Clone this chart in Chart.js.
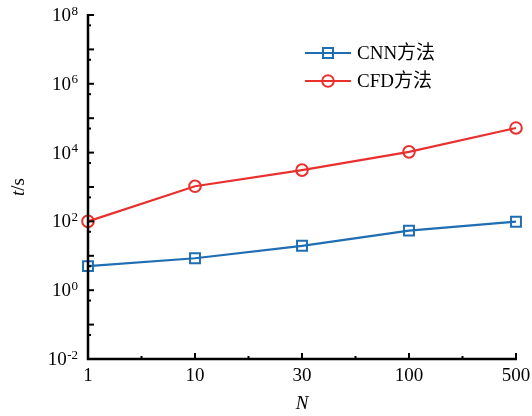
<!DOCTYPE html>
<html>
<head>
<meta charset="utf-8">
<script src="https://cdn.jsdelivr.net/npm/chart.js@4.4.1/dist/chart.umd.min.js"></script>
<style>
html,body{margin:0;padding:0;background:#fff;}
#wrap{width:532px;height:416px;position:relative;}
</style>
</head>
<body>
<div id="wrap"><canvas id="c" width="532" height="416"></canvas></div>
<script>
const categories = ['1', '10', '30', '100', '500'];
const cnnValues = [5, 8.5, 19.5, 54, 98];
const cfdValues = [100, 1050, 3100, 10500, 52000];
const seriesNames = ['CNN方法', 'CFD方法'];
const yLabelExponents = [-2, 0, 2, 4, 6, 8];
const yMin = 0.01, yMax = 1e8;
const xTitle = 'N';
const yTitle = ['t', '/s'];

const BLUE = '#1f6db3';
const RED = '#e8302e';
const SERIF = '"Liberation Serif", "DejaVu Serif", serif';
const CJK = '"Liberation Serif", "Noto Sans CJK SC", serif';

const axesPlugin = {
  id: 'axesPlugin',
  afterDatasetsDraw(chart) {
    const ctx = chart.ctx;
    const xs = chart.scales.x, ys = chart.scales.y;
    const a = chart.chartArea;
    ctx.save();
    ctx.strokeStyle = '#000';
    ctx.fillStyle = '#000';
    // axis lines
    ctx.lineWidth = 2.5;
    ctx.beginPath();
    ctx.moveTo(a.left, a.top - 1);
    ctx.lineTo(a.left, a.bottom);
    ctx.lineTo(a.right + 1, a.bottom);
    ctx.stroke();
    // y ticks (inward)
    ctx.lineWidth = 2;
    for (let e = -2; e <= 8; e++) {
      const y = ys.getPixelForValue(Math.pow(10, e));
      ctx.beginPath(); ctx.moveTo(a.left, y); ctx.lineTo(a.left + 6, y); ctx.stroke();
      if (e < 8) {
        const y2 = ys.getPixelForValue(5 * Math.pow(10, e));
        ctx.beginPath(); ctx.moveTo(a.left, y2); ctx.lineTo(a.left + 3, y2); ctx.stroke();
      }
    }
    // x ticks (inward)
    for (let i = 0; i < categories.length; i++) {
      const x = xs.getPixelForValue(i);
      ctx.beginPath(); ctx.moveTo(x, a.bottom); ctx.lineTo(x, a.bottom - 6); ctx.stroke();
      if (i < categories.length - 1) {
        const xm = xs.getPixelForValue(i + 0.5);
        ctx.beginPath(); ctx.moveTo(xm, a.bottom); ctx.lineTo(xm, a.bottom - 3); ctx.stroke();
      }
    }
    // x labels
    ctx.font = '19px ' + SERIF;
    ctx.textAlign = 'center';
    ctx.textBaseline = 'middle';
    categories.forEach((c, i) => {
      ctx.fillText(c, xs.getPixelForValue(i), a.bottom + 17);
    });
    // y labels with superscripts
    yLabelExponents.forEach(e => {
      const y = ys.getPixelForValue(Math.pow(10, e));
      const exp = e < 0 ? '-' + Math.abs(e) : String(e);
      ctx.font = '13px ' + SERIF;
      const ew = ctx.measureText(exp).width;
      const right = a.left - 10;
      ctx.textAlign = 'left';
      ctx.textBaseline = 'alphabetic';
      ctx.fillText(exp, right - ew, y - 0.5);
      ctx.font = '19px ' + SERIF;
      ctx.textAlign = 'right';
      ctx.textBaseline = 'middle';
      ctx.fillText('10', right - ew - 0.5, y + 1);
    });
    // x title
    ctx.font = 'italic 19px ' + SERIF;
    ctx.textAlign = 'center';
    ctx.textBaseline = 'middle';
    ctx.fillText(xTitle, (a.left + a.right) / 2, 404);
    // y title rotated
    ctx.save();
    ctx.translate(19, (a.top + a.bottom) / 2);
    ctx.rotate(-Math.PI / 2);
    ctx.font = 'italic 19px ' + SERIF;
    const w1 = ctx.measureText(yTitle[0]).width;
    ctx.font = '19px ' + SERIF;
    const w2 = ctx.measureText(yTitle[1]).width;
    const start = -(w1 + w2) / 2;
    ctx.textAlign = 'left';
    ctx.textBaseline = 'middle';
    ctx.font = 'italic 19px ' + SERIF;
    ctx.fillText(yTitle[0], start, 0);
    ctx.font = '19px ' + SERIF;
    ctx.fillText(yTitle[1], start + w1, 0);
    ctx.restore();
    // legend
    const items = chart.data.datasets;
    items.forEach((ds, i) => {
      const ly = 53 + i * 28;
      ctx.strokeStyle = ds.borderColor;
      ctx.lineWidth = 2.2;
      ctx.beginPath(); ctx.moveTo(305, ly); ctx.lineTo(351, ly); ctx.stroke();
      ctx.lineWidth = 2;
      if (ds.pointStyle === 'rect') {
        ctx.strokeRect(323, ly - 5, 10, 10);
      } else {
        ctx.beginPath(); ctx.arc(328, ly, 5.8, 0, Math.PI * 2); ctx.stroke();
      }
      ctx.fillStyle = '#000';
      ctx.font = '19px ' + CJK;
      ctx.textAlign = 'left';
      ctx.textBaseline = 'middle';
      ctx.fillText(ds.label, 357, ly + 1);
    });
    ctx.restore();
  }
};

new Chart(document.getElementById('c'), {
  type: 'line',
  data: {
    labels: categories,
    datasets: [
      {
        label: seriesNames[0], data: cnnValues,
        borderColor: BLUE, backgroundColor: 'rgba(0,0,0,0)',
        borderWidth: 2.2, pointStyle: 'rect', pointRadius: 7,
        pointBorderWidth: 2, pointBorderColor: BLUE, pointBackgroundColor: 'rgba(0,0,0,0)',
        tension: 0, clip: false
      },
      {
        label: seriesNames[1], data: cfdValues,
        borderColor: RED, backgroundColor: 'rgba(0,0,0,0)',
        borderWidth: 2.2, pointStyle: 'circle', pointRadius: 5.8,
        pointBorderWidth: 2, pointBorderColor: RED, pointBackgroundColor: 'rgba(0,0,0,0)',
        tension: 0, clip: false
      }
    ]
  },
  options: {
    responsive: false,
    animation: false,
    devicePixelRatio: 1,
    layout: { padding: { left: 88, top: 15, right: 16, bottom: 57 } },
    plugins: { legend: { display: false }, tooltip: { enabled: false } },
    scales: {
      x: { type: 'category', offset: false, display: false },
      y: { type: 'logarithmic', min: yMin, max: yMax, display: false }
    }
  },
  plugins: [axesPlugin]
});
</script>
</body>
</html>
